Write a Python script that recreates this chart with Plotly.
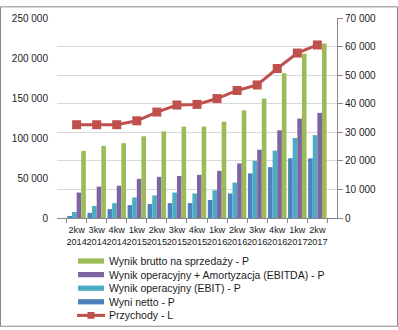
import plotly.graph_objects as go

# Quarterly results (P = right axis, L = left axis)
quarters = ["2kw<br>2014", "3kw<br>2014", "4kw<br>2014", "1kw<br>2015", "2kw<br>2015",
            "3kw<br>2015", "4kw<br>2015", "1kw<br>2016", "2kw<br>2016", "3kw<br>2016",
            "4kw<br>2016", "1kw<br>2017", "2kw<br>2017"]
wynik_netto = [500, 1800, 3100, 4500, 4900, 5200, 5200, 6300, 8600, 15600, 17800, 20900, 20900]
ebit = [2100, 4200, 5200, 7200, 7900, 8900, 8600, 9700, 12400, 20000, 23600, 28000, 29000]
ebitda = [8900, 11000, 11300, 13700, 14400, 14700, 15100, 16500, 19100, 23900, 30700, 34800, 36800]
brutto = [23500, 25200, 26200, 28600, 30300, 32000, 32000, 33700, 37700, 41800, 50700, 57500, 61100]
przychody = [116600, 116600, 116600, 121500, 132400, 141200, 142000, 149300, 159400, 166300,
             186900, 206200, 216300]

left_ticks = [0, 50000, 100000, 150000, 200000, 250000]
right_ticks = [0, 10000, 20000, 30000, 40000, 50000, 60000, 70000]

C_BLUE, C_CYAN, C_PURPLE, C_GREEN, C_RED = "#4F81BD", "#4BACC6", "#8064A2", "#9BBB59", "#C0504D"
FONT = "Liberation Sans, Arial, sans-serif"
TXT = "#1a1a1a"

W, H = 398, 330
L, R, T, B = 57, 61, 12, 112
PW, PH = W - L - R, H - T - B


def px(x):
    return (x - L) / PW


def py(y):
    return (H - B - y) / PH


fig = go.Figure()
bar_series = [("Wyni netto - P", wynik_netto, C_BLUE),
              ("Wynik operacyjny (EBIT) - P", ebit, C_CYAN),
              ("Wynik operacyjny + Amortyzacja (EBITDA) - P", ebitda, C_PURPLE),
              ("Wynik brutto na sprzedaży - P", brutto, C_GREEN)]
for name, vals, col in bar_series:
    fig.add_trace(go.Bar(x=quarters, y=vals, name=name, marker_color=col,
                         marker_line_width=0, yaxis="y2", showlegend=False))

fig.add_trace(go.Scatter(x=quarters, y=przychody, name="Przychody - L", yaxis="y",
                         mode="lines+markers", line=dict(color=C_RED, width=3),
                         marker=dict(symbol="square", size=9, color=C_RED),
                         showlegend=False))

# Legend drawn as swatches + text below the plot
legend_rows = [("Wynik brutto na sprzedaży - P", C_GREEN, "bar"),
               ("Wynik operacyjny + Amortyzacja (EBITDA) - P", C_PURPLE, "bar"),
               ("Wynik operacyjny (EBIT) - P", C_CYAN, "bar"),
               ("Wyni netto - P", C_BLUE, "bar"),
               ("Przychody - L", C_RED, "line")]
shapes = []
annotations = []
for i, (label, col, kind) in enumerate(legend_rows):
    yc = 262.3 + i * 14
    if kind == "bar":
        shapes.append(dict(type="rect", xref="paper", yref="paper",
                           x0=px(78), x1=px(104), y0=py(yc + 2.7), y1=py(yc - 2.7),
                           fillcolor=col, line_width=0))
    else:
        shapes.append(dict(type="line", xref="paper", yref="paper",
                           x0=px(77), x1=px(105), y0=py(yc), y1=py(yc),
                           line=dict(color=col, width=3)))
        shapes.append(dict(type="rect", xref="paper", yref="paper",
                           x0=px(87.5), x1=px(94.5), y0=py(yc + 3.5), y1=py(yc - 3.5),
                           fillcolor=col, line_width=0))
    annotations.append(dict(text=label, xref="paper", yref="paper", x=px(106.5), y=py(yc),
                            xanchor="left", yanchor="middle", showarrow=False,
                            font=dict(family=FONT, size=10.5, color=TXT)))

# Chart border
shapes.append(dict(type="rect", xref="paper", yref="paper",
                   x0=px(0.5), x1=px(W - 0.5), y0=py(H - 0.5), y1=py(0.5),
                   line=dict(color="#888888", width=1), fillcolor="rgba(0,0,0,0)", layer="below"))

fig.update_layout(
    width=W, height=H,
    margin=dict(l=L, r=R, t=T, b=B),
    paper_bgcolor="white", plot_bgcolor="white",
    separators=", ",
    barmode="group", bargap=0.08, bargroupgap=0,
    showlegend=False,
    font=dict(family=FONT, size=10, color=TXT),
    xaxis=dict(type="category", showline=True, linecolor="#888888", linewidth=1,
               ticks="outside", tickson="boundaries", ticklen=4, tickcolor="#888888",
               ticklabelstandoff=3,
               showgrid=False, tickfont=dict(size=9.2, color=TXT), tickangle=0),
    yaxis=dict(range=[0, 250000], tickvals=left_ticks, tickformat=",d",
               showgrid=False, showline=False, zeroline=False,
               ticks="outside", ticklen=6, tickcolor="rgba(0,0,0,0)",
               tickfont=dict(size=10, color=TXT)),
    yaxis2=dict(range=[0, 70000], tickvals=right_ticks, tickformat=",d", overlaying="y",
                side="right", showgrid=True, gridcolor="#d9d9d9", gridwidth=1,
                showline=True, linecolor="#888888", linewidth=1, zeroline=False,
                ticks="outside", ticklen=5, tickcolor="#888888",
                tickfont=dict(size=10, color=TXT)),
    shapes=shapes,
    annotations=annotations,
)

fig.write_html("out.html")
